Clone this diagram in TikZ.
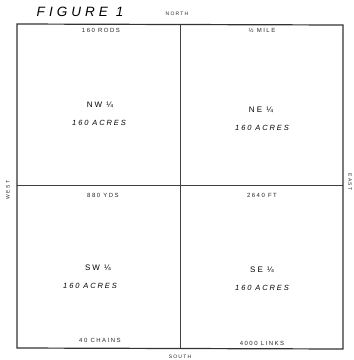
\documentclass[tikz,border=0pt]{standalone}
\usepackage{fontspec}
\setmainfont{Liberation Sans}
\newfontfamily\lblfont[LetterSpace=25]{Liberation Sans}
\newfontfamily\figfont[LetterSpace=30]{Liberation Sans}
\begin{document}
\begin{tikzpicture}[x=1pt,y=-1pt,
  frame/.style={draw=black!80,line width=1.2pt},
  divider/.style={draw=black!75,line width=0.9pt},
  small/.style={font=\lblfont\fontsize{6}{7}\selectfont,text=black!85,inner sep=0pt},
  quarter/.style={font=\lblfont\fontsize{8}{9}\selectfont,inner sep=0pt},
  acres/.style={font=\lblfont\itshape\fontsize{7.5}{8}\selectfont,inner sep=0pt},
  dir/.style={font=\lblfont\fontsize{5}{6}\selectfont,text=black!85,inner sep=0pt}]
\useasboundingbox (0,0) rectangle (354,360);
\coordinate (tl) at (17,24);
\coordinate (tr) at (343,25);
\coordinate (br) at (343,349);
\coordinate (bl) at (17,348);
\coordinate (tm) at (180,24.5);
\coordinate (bm) at (180,348.5);
\coordinate (lm) at (17,185);
\coordinate (rm) at (343,185);
\draw[divider] (tm) -- (bm);
\draw[divider] (lm) -- (rm);
\draw[frame] (tl) -- (tr) -- (br) -- (bl) -- cycle;
\node[font=\figfont\itshape\fontsize{13.5}{15}\selectfont,inner sep=0pt] (fig) at (80,12) {FIGURE 1};
\node[dir] (north) at (177,14) {NORTH};
\node[dir] (south) at (180,357) {SOUTH};
\node[dir,rotate=90] (west) at (8,190) {WEST};
\node[dir,rotate=-90] (east) at (350,182) {EAST};
\node[small] (rods) at (101,30) {160 RODS};
\node[small] (mile) at (262,30.5) {½ MILE};
\node[small] (yds) at (103,195) {880 YDS};
\node[small] (ft) at (262,195) {2640 FT};
\node[small] (chains) at (100,340) {40 CHAINS};
\node[small] (links) at (262,343) {4000 LINKS};
\node[quarter] (nw) at (100,105) {NW ¼};
\node[acres] (nwa) at (99,123) {160 ACRES};
\node[quarter] (ne) at (261,110) {NE ¼};
\node[acres] (nea) at (262,128) {160 ACRES};
\node[quarter] (sw) at (98,268) {SW ¼};
\node[acres] (swa) at (90,286) {160 ACRES};
\node[quarter] (se) at (262,270) {SE ¼};
\node[acres] (sea) at (262,288) {160 ACRES};
\end{tikzpicture}
\end{document}
